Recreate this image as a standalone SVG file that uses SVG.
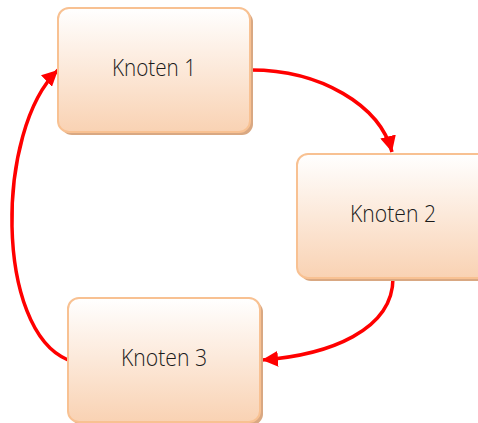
<svg xmlns="http://www.w3.org/2000/svg" width="478" height="423" viewBox="0 0 478 423">
  <style>
    .box { fill: url(#nodeFill); stroke: #f8c192; stroke-width: 2; }
    .shadow { fill: #d9a882; }
    .label { font-family: "Open Sans", "Liberation Sans", sans-serif; font-weight: 350; font-size: 24px; fill: #1a1a1a; text-anchor: middle; }
    .edge { fill: none; stroke: #ff0000; stroke-width: 3.5; marker-end: url(#arrow); }
  </style>
  <defs>
    <linearGradient id="nodeFill" x1="0" y1="0" x2="0" y2="1">
      <stop offset="0" stop-color="#ffffff"/>
      <stop offset="1" stop-color="#f9d2b3"/>
    </linearGradient>
    <marker id="arrow" markerUnits="userSpaceOnUse" markerWidth="18" markerHeight="16" refX="16" refY="8" orient="auto">
      <path d="M0,0 L16,8 L0,16 Z" fill="#ff0000"/>
    </marker>
  </defs>

  <g id="connectors">
    <path class="edge" d="M251,70 C320,70 380,105 392,152"/>
    <path class="edge" d="M393,278 C393,330 330,355 262,360"/>
    <path class="edge" d="M68,360 C-5,330 -5,130 58,70"/>
  </g>

  <g id="node1">
    <rect class="shadow" x="61" y="11" width="192" height="124" rx="11"/>
    <rect class="box" x="58" y="8" width="192" height="124" rx="11"/>
    <text class="label" x="154" y="76" textLength="84" lengthAdjust="spacingAndGlyphs">Knoten 1</text>
  </g>

  <g id="node2">
    <rect class="shadow" x="300" y="157" width="192" height="124" rx="11"/>
    <rect class="box" x="297" y="154" width="192" height="124" rx="11"/>
    <text class="label" x="393" y="222" textLength="86" lengthAdjust="spacingAndGlyphs">Knoten 2</text>
  </g>

  <g id="node3">
    <rect class="shadow" x="71" y="301" width="192" height="124" rx="11"/>
    <rect class="box" x="68" y="298" width="192" height="124" rx="11"/>
    <text class="label" x="164" y="366" textLength="86" lengthAdjust="spacingAndGlyphs">Knoten 3</text>
  </g>
</svg>
